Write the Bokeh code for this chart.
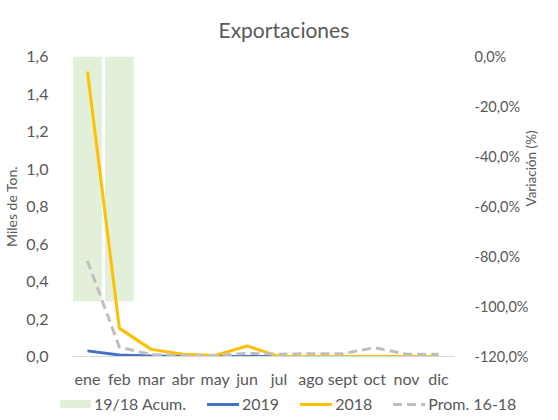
from bokeh.plotting import figure
from bokeh.models import (Range1d, LinearAxis, FixedTicker, Div)
from bokeh.layouts import column
from bokeh.embed import file_html
from bokeh.resources import INLINE

# ---- data ----
months = ["ene", "feb", "mar", "abr", "may", "jun", "jul", "ago", "sept", "oct", "nov", "dic"]
x_pos = list(range(1, 13))
s2019 = [0.03, 0.008, 0.003, 0.001, 0.0, 0.0, 0.0, 0.0, 0.0, 0.0, 0.0, 0.0]
s2018 = [1.52, 0.15, 0.038, 0.012, 0.006, 0.056, 0.0, 0.0, 0.0, 0.0, 0.0, 0.0]
prom = [0.51, 0.05, 0.01, 0.005, 0.005, 0.017, 0.012, 0.015, 0.015, 0.047, 0.012, 0.012]
acum_x = [1, 2]
acum_var = [-0.98, -0.98]

left_ticks = [0.0, 0.2, 0.4, 0.6, 0.8, 1.0, 1.2, 1.4, 1.6]
left_labels = ["0,0", "0,2", "0,4", "0,6", "0,8", "1,0", "1,2", "1,4", "1,6"]
right_ticks = [-1.2, -1.0, -0.8, -0.6, -0.4, -0.2, 0.0]
right_labels = ["-120,0%", "-100,0%", "-80,0%", "-60,0%", "-40,0%", "-20,0%", "0,0%"]

series_names = ["19/18 Acum.", "2019", "2018", "Prom. 16-18"]

FONT = "Lato"
TXT = "#595959"
C_ACUM, C19, C18, CPR = "#E2F0D9", "#4472C4", "#FFC000", "#BFBFBF"

p = figure(width=550, height=390, output_backend="svg", toolbar_location=None,
           x_range=Range1d(0.5, 12.5), y_range=Range1d(0, 1.6),
           min_border_left=62, min_border_right=93, min_border_top=56, min_border_bottom=34)
p.extra_y_ranges = {"pct": Range1d(-1.2, 0)}
p.outline_line_color = None
p.xgrid.visible = False
p.ygrid.visible = False
p.background_fill_color = "white"
p.border_fill_color = "white"

p.title.text = "Exportaciones"
p.title.align = "left"
p.title.offset = 147
p.title.standoff = 29
p.title.text_font = FONT
p.title.text_font_size = "21px"
p.title.text_font_style = "normal"
p.title.text_color = TXT

p.vbar(x=acum_x, top=0, bottom=acum_var, width=0.9, y_range_name="pct",
       fill_color=C_ACUM, line_color=None)
p.line(x_pos, s2019, line_color=C19, line_width=3)
p.line(x_pos, s2018, line_color=C18, line_width=3)
p.line(x_pos, prom, line_color=CPR, line_width=3, line_dash="9 5")

# axes
xa = p.xaxis[0]
xa.ticker = FixedTicker(ticks=x_pos)
xa.major_label_overrides = dict(zip(x_pos, months))
xa.axis_line_color = "#D9D9D9"
xa.major_tick_line_color = None
xa.minor_tick_line_color = None
xa.major_label_standoff = 6
xa.major_label_text_font = FONT
xa.major_label_text_font_size = "16px"
xa.major_label_text_color = TXT

ya = p.yaxis[0]
ya.ticker = FixedTicker(ticks=left_ticks)
ya.major_label_overrides = dict(zip(left_ticks, left_labels))
ya.axis_line_color = None
ya.major_tick_line_color = None
ya.minor_tick_line_color = None
ya.major_label_standoff = 17
ya.major_label_text_font = FONT
ya.major_label_text_font_size = "16px"
ya.major_label_text_color = TXT
ya.axis_label = "Miles de Ton."
ya.axis_label_standoff = 3
ya.axis_label_text_font = FONT
ya.axis_label_text_font_size = "14px"
ya.axis_label_text_font_style = "normal"
ya.axis_label_text_color = TXT

ra = LinearAxis(y_range_name="pct", ticker=FixedTicker(ticks=right_ticks))
ra.major_label_overrides = dict(zip(right_ticks, right_labels))
ra.axis_line_color = None
ra.major_tick_line_color = None
ra.minor_tick_line_color = None
ra.major_label_standoff = 14
ra.major_label_text_font = FONT
ra.major_label_text_font_size = "14.5px"
ra.major_label_text_color = TXT
ra.axis_label = "Variación (%)"
ra.axis_label_standoff = 0
ra.axis_label_text_font = FONT
ra.axis_label_text_font_size = "13.5px"
ra.axis_label_text_font_style = "normal"
ra.axis_label_text_line_height = 0.9
ra.axis_label_text_color = TXT
try:
    ra.axis_label_orientation = 1.5708
except Exception:
    pass
p.add_layout(ra, "right")

# legend row (HTML), swatch styles per series
swatches = [
    f"width:31px;height:8px;background:{C_ACUM};",
    f"width:32px;height:3px;background:{C19};",
    f"width:32px;height:3px;background:{C18};",
    f"width:32px;height:3px;background:repeating-linear-gradient(to right,{CPR} 0 9px,transparent 9px 14px);",
]
items_html = "".join(
    f'<span style="display:inline-flex;align-items:center;margin-right:21px;">'
    f'<span style="display:inline-block;{sw}margin-right:3px;"></span>'
    f'<span>{name}</span></span>'
    for sw, name in zip(swatches, series_names))
leg = Div(text=(f'<div style="display:flex;align-items:center;height:28px;padding-left:60px;'
                f'white-space:nowrap;font-family:{FONT};font-size:16px;color:{TXT};">'
                f'{items_html}</div>'),
          width=550, height=28, margin=0)

layout = column(p, leg, spacing=0)
open("out.html", "w").write(file_html(layout, INLINE))
